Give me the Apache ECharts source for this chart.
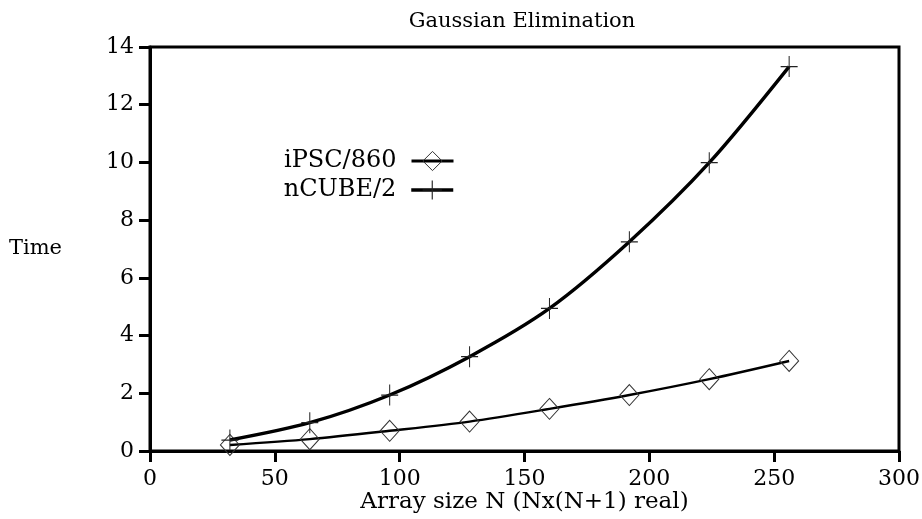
<!DOCTYPE html>
<html><head><meta charset="utf-8">
<script src="https://cdn.jsdelivr.net/npm/echarts@6/dist/echarts.min.js"></script>
<style>html,body{margin:0;padding:0;background:#fff}#c{width:922px;height:519px}</style>
</head><body><div id="c"></div>
<script>
const titleText = 'Gaussian Elimination';
const xName = 'Array size N (Nx(N+1) real)';
const yName = 'Time';
const sizes = [32, 64, 96, 128, 160, 192, 224, 256];
const ipsc = [0.21, 0.41, 0.70, 1.02, 1.46, 1.94, 2.49, 3.12];
const ncube = [0.38, 0.98, 1.94, 3.27, 4.94, 7.25, 9.99, 13.32];
const seriesNames = ['iPSC/860', 'nCUBE/2'];

const FONT = 'DejaVu Serif';
const plus = 'path://M-0.5,-10H0.5V-0.6H8.5V0.6H0.5V10H-0.5V0.6H-8.5V-0.6H-0.5Z';

const legendBase = {
  orient: 'vertical', align: 'right', right: 467, padding: 0,
  itemWidth: 42, itemHeight: 24,
  textStyle: {fontFamily: FONT, fontSize: 24, color: '#000', padding: [0, 10, 0, 0]}
};

const chart = echarts.init(document.getElementById('c'), null, {renderer: 'canvas'});
chart.setOption({
  animation: false,
  backgroundColor: '#fff',
  title: {
    text: titleText, left: 517, textAlign: 'center', top: 6,
    textStyle: {fontFamily: FONT, fontSize: 21, fontWeight: 'normal', color: '#000'}
  },
  grid: {left: 150, right: 23, top: 47, bottom: 68, show: true, borderColor: '#000', borderWidth: 3,
         containLabel: false, outerBoundsMode: 'none'},
  legend: [
    Object.assign({}, legendBase, {data: [seriesNames[0]], top: 149,
      itemStyle: {borderWidth: 1, borderColor: '#333', color: 'rgba(0,0,0,0)'},
      lineStyle: {width: 3, color: '#000'}}),
    Object.assign({}, legendBase, {data: [seriesNames[1]], top: 178,
      lineStyle: {width: 3.5, color: '#000'}})
  ],
  xAxis: {
    type: 'value', min: 0, max: 300, interval: 50,
    name: xName, nameLocation: 'middle', nameGap: 40, nameMoveOverlap: false,
    nameTextStyle: {fontFamily: FONT, fontSize: 23, color: '#000'},
    axisLine: {onZero: false, lineStyle: {color: '#000', width: 3}},
    axisTick: {length: 11, lineStyle: {color: '#000', width: 3}},
    axisLabel: {margin: 17, fontFamily: FONT, fontSize: 22, color: '#000'},
    splitLine: {show: false}
  },
  yAxis: {
    type: 'value', min: 0, max: 14, interval: 2,
    name: yName, nameLocation: 'middle', nameRotate: 0, nameGap: 88, nameMoveOverlap: false,
    nameTextStyle: {fontFamily: FONT, fontSize: 21, color: '#000', padding: [6, 0, 0, 0]},
    axisLine: {show: true, onZero: false, lineStyle: {color: '#000', width: 3}},
    axisTick: {show: true, length: 11, lineStyle: {color: '#000', width: 3}},
    axisLabel: {margin: 16, fontFamily: FONT, fontSize: 22, color: '#000'},
    splitLine: {show: false}
  },
  series: [
    {
      name: seriesNames[0], type: 'line', smooth: 0.3,
      data: sizes.map((x, i) => [x, ipsc[i]]),
      symbol: 'diamond', symbolSize: [19, 21],
      itemStyle: {color: 'rgba(0,0,0,0)', borderColor: '#333', borderWidth: 1},
      lineStyle: {color: '#000', width: 2.4}, z: 2
    },
    {
      name: seriesNames[1], type: 'line', smooth: 0.3,
      data: sizes.map((x, i) => [x, ncube[i]]),
      symbol: plus, symbolSize: [17, 21],
      itemStyle: {color: '#222', borderWidth: 0},
      lineStyle: {color: '#000', width: 3.4}, z: 3
    }
  ]
});
</script></body></html>
